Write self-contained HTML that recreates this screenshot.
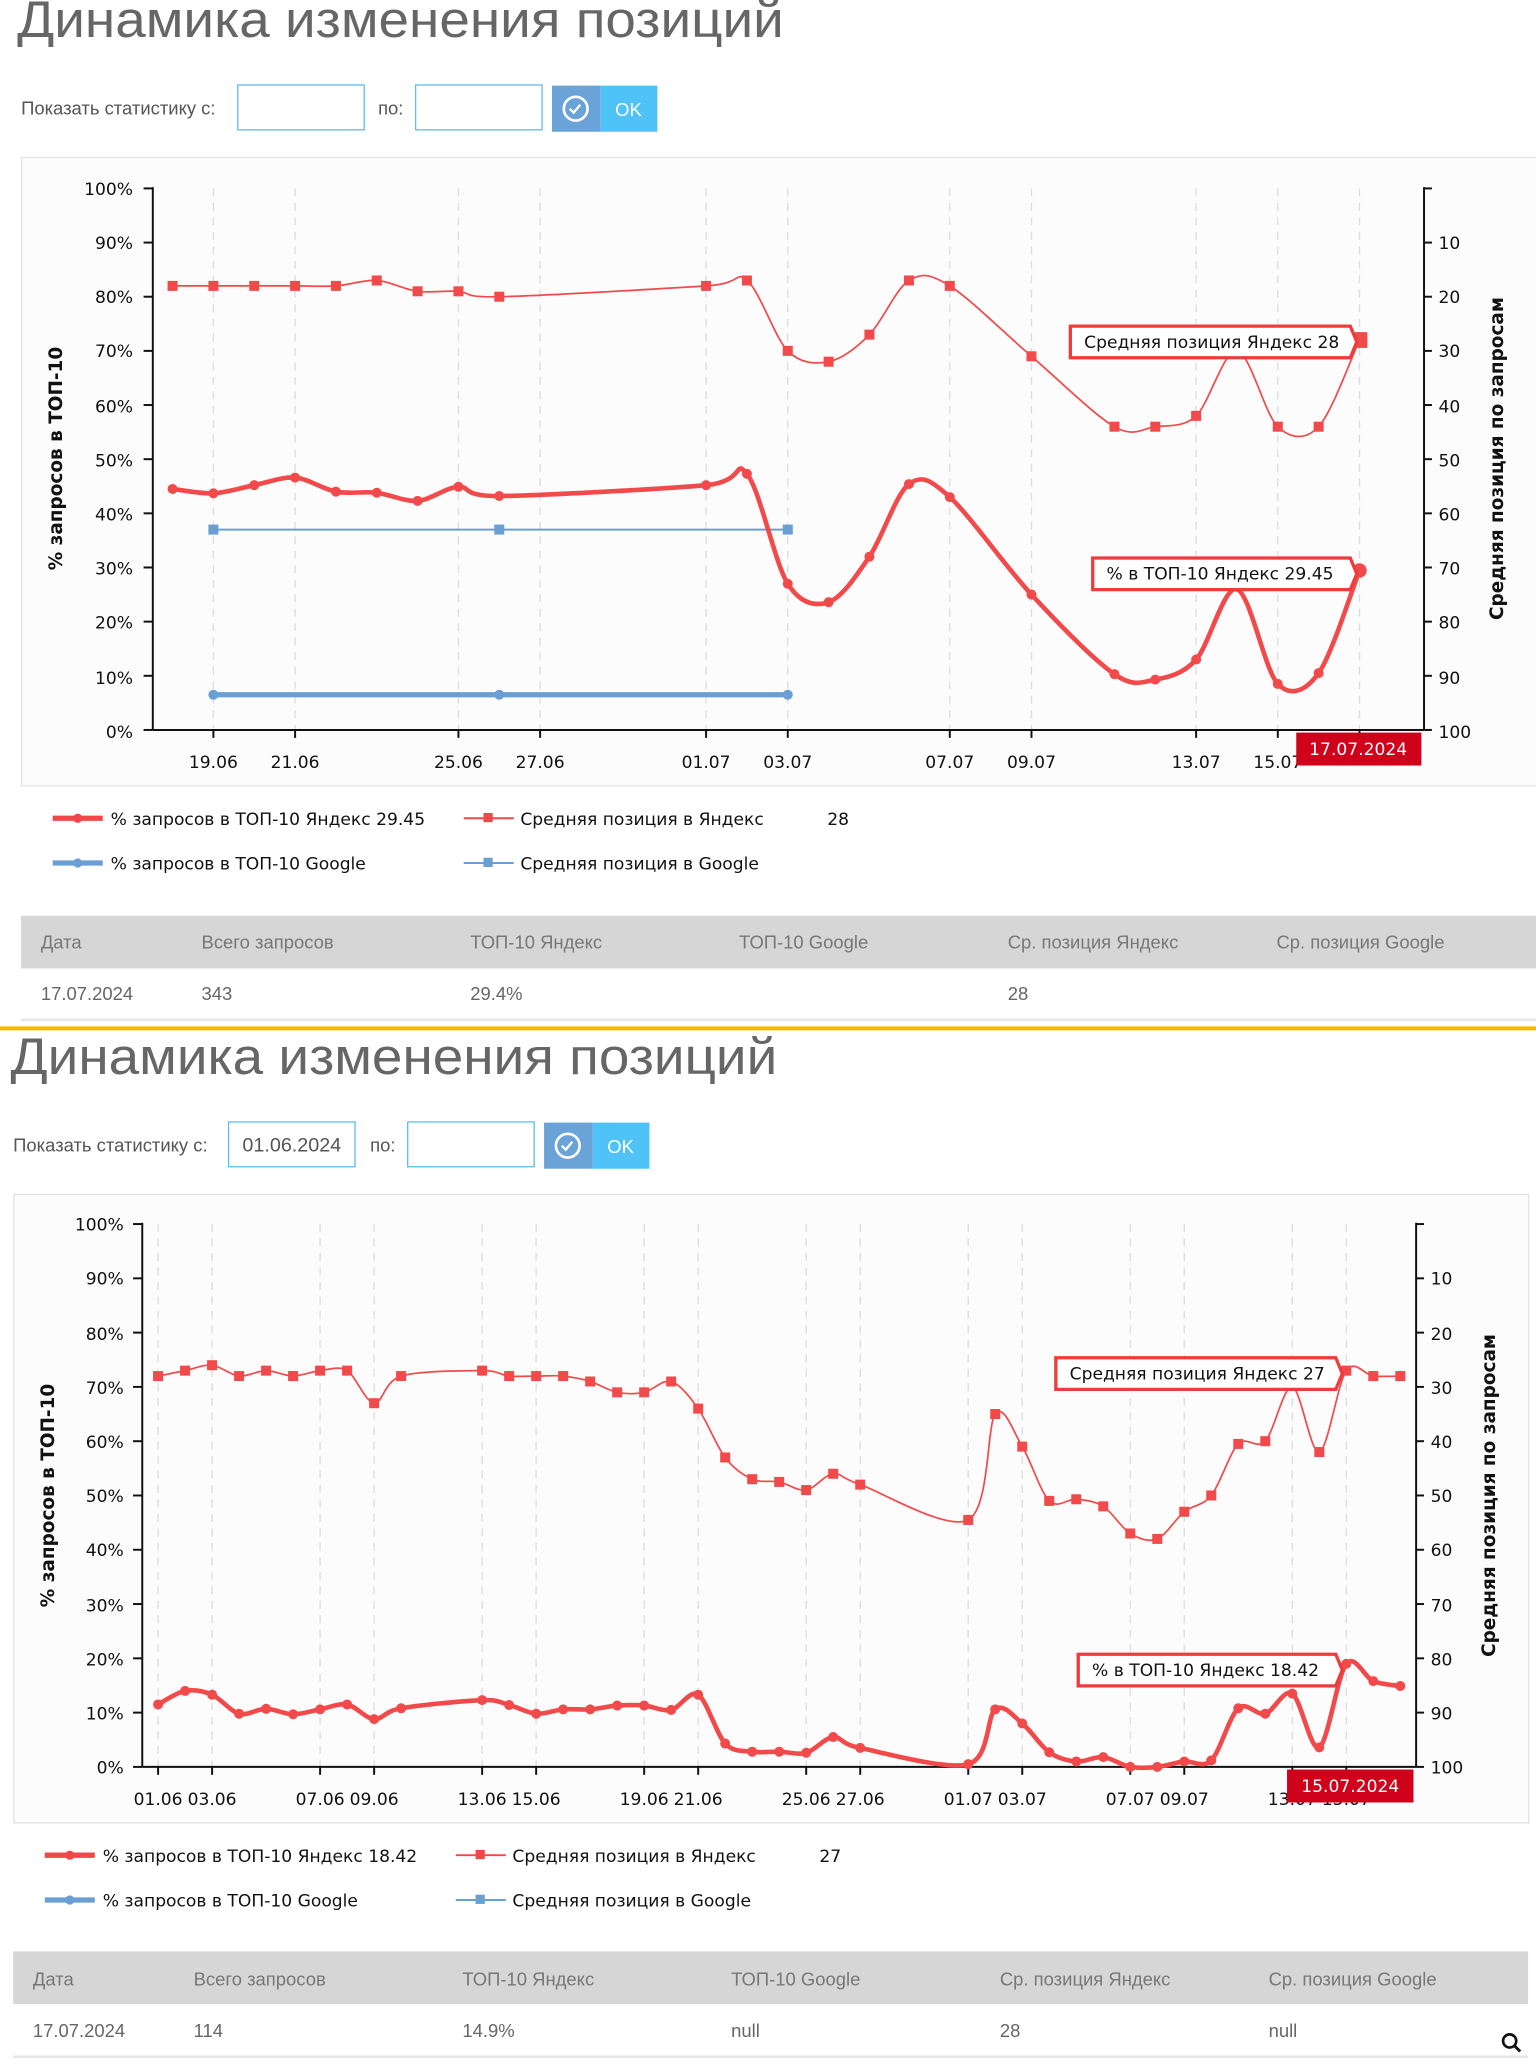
<!DOCTYPE html>
<html><head><meta charset="utf-8">
<style>
html,body{margin:0;padding:0;background:#fff;}
svg{display:block;}
.pg{font-family:"Liberation Sans",sans-serif;}
.ch{font-family:"DejaVu Sans","Liberation Sans",sans-serif;}
</style></head>
<body>
<svg id="s" width="1536" height="2066" viewBox="0 0 1166 1568" preserveAspectRatio="none" xmlns="http://www.w3.org/2000/svg">
<rect width="1166" height="1568" fill="#fff"/>

<!-- ============ BLOCK 1 ============ -->
<text class="pg" x="13" y="28" font-size="39" fill="#666" textLength="582" lengthAdjust="spacingAndGlyphs">Динамика изменения позиций</text>
<text class="pg" x="16" y="87" font-size="14" fill="#555">Показать статистику с:</text>
<rect x="180.5" y="64.5" width="96" height="34" fill="#fff" stroke="#5bc0f0"/>
<text class="pg" x="287" y="87" font-size="14" fill="#555">по:</text>
<rect x="315.5" y="64.5" width="96" height="34" fill="#fff" stroke="#5bc0f0"/>
<rect x="419" y="65" width="37" height="35" fill="#6aa3d8"/>
<rect x="456" y="65" width="43" height="35" fill="#4fc3f7"/>
<circle cx="437" cy="82.5" r="9" fill="none" stroke="#fff" stroke-width="2"/>
<path d="M432.5 82.5 l3 3 l5 -6" fill="none" stroke="#fff" stroke-width="1.8"/>
<text class="pg" x="467" y="88" font-size="14" fill="#fff">OK</text>

<rect x="16.5" y="119.5" width="1160" height="477" fill="#fcfcfc" stroke="#e2e2e2"/>
<g id="c1"></g>
<g class="ch" font-size="13" fill="#111">
<text x="101" y="148" text-anchor="end">100%</text>
<text x="101" y="189" text-anchor="end">90%</text>
<text x="101" y="230" text-anchor="end">80%</text>
<text x="101" y="271" text-anchor="end">70%</text>
<text x="101" y="313" text-anchor="end">60%</text>
<text x="101" y="354" text-anchor="end">50%</text>
<text x="101" y="395" text-anchor="end">40%</text>
<text x="101" y="436" text-anchor="end">30%</text>
<text x="101" y="477" text-anchor="end">20%</text>
<text x="101" y="519" text-anchor="end">10%</text>
<text x="101" y="560" text-anchor="end">0%</text>
<text x="1092" y="189">10</text><text x="1092" y="230">20</text><text x="1092" y="271">30</text>
<text x="1092" y="313">40</text><text x="1092" y="354">50</text><text x="1092" y="395">60</text>
<text x="1092" y="436">70</text><text x="1092" y="477">80</text><text x="1092" y="519">90</text>
<text x="1092" y="560">100</text>
<text x="162" y="583" text-anchor="middle">19.06</text>
<text x="224" y="583" text-anchor="middle">21.06</text>
<text x="348" y="583" text-anchor="middle">25.06</text>
<text x="410" y="583" text-anchor="middle">27.06</text>
<text x="536" y="583" text-anchor="middle">01.07</text>
<text x="598" y="583" text-anchor="middle">03.07</text>
<text x="721" y="583" text-anchor="middle">07.07</text>
<text x="783" y="583" text-anchor="middle">09.07</text>
<text x="908" y="583" text-anchor="middle">13.07</text>
<text x="970" y="583" text-anchor="middle">15.07</text>
<text transform="translate(47,348) rotate(-90)" text-anchor="middle" font-weight="bold" font-size="14">% запросов в ТОП-10</text>
<text transform="translate(1141,348) rotate(-90)" text-anchor="middle" font-weight="bold" font-size="14">Средняя позиция по запросам</text>
</g>
<rect x="984" y="556" width="95" height="25" fill="#d0021b"/>
<text class="ch" x="1031" y="573" font-size="13" fill="#fff" text-anchor="middle">17.07.2024</text>
<!-- tooltips 1 -->
<g class="ch" font-size="13" fill="#111">
<path d="M812.5 247.5 H1025 l5 12 l-5 12 H812.5 Z" fill="#fff" stroke="#ee3b3b" stroke-width="2.5"/>
<text x="823" y="264">Средняя позиция Яндекс 28</text>
<path d="M829.5 423.5 H1025 l5 12 l-5 12 H829.5 Z" fill="#fff" stroke="#ee3b3b" stroke-width="2.5"/>
<text x="840" y="440">% в ТОП-10 Яндекс 29.45</text>
</g>
<!-- legend 1 -->
<g class="ch" font-size="13" fill="#111">
<line x1="40" y1="621" x2="78" y2="621" stroke="#f04848" stroke-width="4"/><circle cx="59" cy="621" r="3.5" fill="#f04848"/>
<text x="84" y="626">% запросов в ТОП-10 Яндекс  29.45</text>
<line x1="352" y1="621" x2="390" y2="621" stroke="#f04848" stroke-width="1.5"/><rect x="367" y="617" width="7" height="7" fill="#f04848"/>
<text x="395" y="626">Средняя позиция в Яндекс</text><text x="628" y="626">28</text>
<line x1="40" y1="655" x2="78" y2="655" stroke="#6a9fd4" stroke-width="4"/><circle cx="59" cy="655" r="3.5" fill="#6a9fd4"/>
<text x="84" y="660">% запросов в ТОП-10 Google</text>
<line x1="352" y1="655" x2="390" y2="655" stroke="#6a9fd4" stroke-width="1.5"/><rect x="367" y="651" width="7" height="7" fill="#6a9fd4"/>
<text x="395" y="660">Средняя позиция в Google</text>
</g>
<!-- table 1 -->
<rect x="16" y="695" width="1150" height="40" fill="#d6d6d6"/>
<g class="pg" font-size="14" fill="#777">
<text x="31" y="720">Дата</text><text x="153" y="720">Всего запросов</text><text x="357" y="720">ТОП-10 Яндекс</text>
<text x="561" y="720">ТОП-10 Google</text><text x="765" y="720">Ср. позиция Яндекс</text><text x="969" y="720">Ср. позиция Google</text>
</g>
<g class="pg" font-size="14" fill="#666">
<text x="31" y="759">17.07.2024</text><text x="153" y="759">343</text><text x="357" y="759">29.4%</text><text x="765" y="759">28</text>
</g>
<line x1="16" y1="774" x2="1166" y2="774" stroke="#e6e6e6" stroke-width="2"/>
<rect x="0" y="779" width="1166" height="3" fill="#f5b800"/>

<!-- ============ BLOCK 2 ============ -->
<text class="pg" x="8" y="815" font-size="39" fill="#666" textLength="582" lengthAdjust="spacingAndGlyphs">Динамика изменения позиций</text>
<text class="pg" x="10" y="874" font-size="14" fill="#555">Показать статистику с:</text>
<rect x="173.5" y="851.5" width="96" height="34" fill="#fff" stroke="#5bc0f0"/>
<svg x="174" y="852" width="95" height="33"><text class="pg" x="10" y="22" font-size="15" fill="#555">01.06.2024</text></svg>
<text class="pg" x="281" y="874" font-size="14" fill="#555">по:</text>
<rect x="309.5" y="851.5" width="96" height="34" fill="#fff" stroke="#5bc0f0"/>
<rect x="413" y="852" width="37" height="35" fill="#6aa3d8"/>
<rect x="450" y="852" width="43" height="35" fill="#4fc3f7"/>
<circle cx="431" cy="869.5" r="9" fill="none" stroke="#fff" stroke-width="2"/>
<path d="M426.5 869.5 l3 3 l5 -6" fill="none" stroke="#fff" stroke-width="1.8"/>
<text class="pg" x="461" y="875" font-size="14" fill="#fff">OK</text>

<rect x="10.5" y="906.5" width="1150" height="477" fill="#fcfcfc" stroke="#e2e2e2"/>
<g id="c2"></g>
<g class="ch" font-size="13" fill="#111">
<text x="94" y="934" text-anchor="end">100%</text>
<text x="94" y="975" text-anchor="end">90%</text>
<text x="94" y="1017" text-anchor="end">80%</text>
<text x="94" y="1058" text-anchor="end">70%</text>
<text x="94" y="1099" text-anchor="end">60%</text>
<text x="94" y="1140" text-anchor="end">50%</text>
<text x="94" y="1181" text-anchor="end">40%</text>
<text x="94" y="1223" text-anchor="end">30%</text>
<text x="94" y="1264" text-anchor="end">20%</text>
<text x="94" y="1305" text-anchor="end">10%</text>
<text x="94" y="1346" text-anchor="end">0%</text>
<text x="1086" y="975">10</text><text x="1086" y="1017">20</text><text x="1086" y="1058">30</text>
<text x="1086" y="1099">40</text><text x="1086" y="1140">50</text><text x="1086" y="1181">60</text>
<text x="1086" y="1223">70</text><text x="1086" y="1264">80</text><text x="1086" y="1305">90</text>
<text x="1086" y="1346">100</text>
<text x="120" y="1370" text-anchor="middle">01.06</text><text x="161" y="1370" text-anchor="middle">03.06</text>
<text x="243" y="1370" text-anchor="middle">07.06</text><text x="284" y="1370" text-anchor="middle">09.06</text>
<text x="366" y="1370" text-anchor="middle">13.06</text><text x="407" y="1370" text-anchor="middle">15.06</text>
<text x="489" y="1370" text-anchor="middle">19.06</text><text x="530" y="1370" text-anchor="middle">21.06</text>
<text x="612" y="1370" text-anchor="middle">25.06</text><text x="653" y="1370" text-anchor="middle">27.06</text>
<text x="735" y="1370" text-anchor="middle">01.07</text><text x="776" y="1370" text-anchor="middle">03.07</text>
<text x="858" y="1370" text-anchor="middle">07.07</text><text x="899" y="1370" text-anchor="middle">09.07</text>
<text x="981" y="1370" text-anchor="middle">13.07</text><text x="1022" y="1370" text-anchor="middle">15.07</text>
<text transform="translate(41,1135) rotate(-90)" text-anchor="middle" font-weight="bold" font-size="14">% запросов в ТОП-10</text>
<text transform="translate(1135,1135) rotate(-90)" text-anchor="middle" font-weight="bold" font-size="14">Средняя позиция по запросам</text>
</g>
<rect x="977" y="1343" width="96" height="25" fill="#d0021b"/>
<text class="ch" x="1025" y="1360" font-size="13" fill="#fff" text-anchor="middle">15.07.2024</text>
<g class="ch" font-size="13" fill="#111">
<path d="M801.5 1030.5 H1014 l5 12 l-5 12 H801.5 Z" fill="#fff" stroke="#ee3b3b" stroke-width="2.5"/>
<text x="812" y="1047">Средняя позиция Яндекс 27</text>
<path d="M818.5 1255.5 H1014 l5 12 l-5 12 H818.5 Z" fill="#fff" stroke="#ee3b3b" stroke-width="2.5"/>
<text x="829" y="1272">% в ТОП-10 Яндекс 18.42</text>
</g>
<g class="ch" font-size="13" fill="#111">
<line x1="34" y1="1408" x2="72" y2="1408" stroke="#f04848" stroke-width="4"/><circle cx="53" cy="1408" r="3.5" fill="#f04848"/>
<text x="78" y="1413">% запросов в ТОП-10 Яндекс  18.42</text>
<line x1="346" y1="1408" x2="384" y2="1408" stroke="#f04848" stroke-width="1.5"/><rect x="361" y="1404" width="7" height="7" fill="#f04848"/>
<text x="389" y="1413">Средняя позиция в Яндекс</text><text x="622" y="1413">27</text>
<line x1="34" y1="1442" x2="72" y2="1442" stroke="#6a9fd4" stroke-width="4"/><circle cx="53" cy="1442" r="3.5" fill="#6a9fd4"/>
<text x="78" y="1447">% запросов в ТОП-10 Google</text>
<line x1="346" y1="1442" x2="384" y2="1442" stroke="#6a9fd4" stroke-width="1.5"/><rect x="361" y="1438" width="7" height="7" fill="#6a9fd4"/>
<text x="389" y="1447">Средняя позиция в Google</text>
</g>
<rect x="10" y="1481" width="1150" height="40" fill="#d6d6d6"/>
<g class="pg" font-size="14" fill="#777">
<text x="25" y="1507">Дата</text><text x="147" y="1507">Всего запросов</text><text x="351" y="1507">ТОП-10 Яндекс</text>
<text x="555" y="1507">ТОП-10 Google</text><text x="759" y="1507">Ср. позиция Яндекс</text><text x="963" y="1507">Ср. позиция Google</text>
</g>
<g class="pg" font-size="14" fill="#666">
<text x="25" y="1546">17.07.2024</text><text x="147" y="1546">114</text><text x="351" y="1546">14.9%</text>
<text x="555" y="1546">null</text><text x="759" y="1546">28</text><text x="963" y="1546">null</text>
</g>
<line x1="10" y1="1561" x2="1160" y2="1561" stroke="#e6e6e6" stroke-width="2"/>
<circle cx="1146" cy="1549" r="5" fill="none" stroke="#111" stroke-width="2"/>
<line x1="1149.5" y1="1552.5" x2="1154" y2="1557" stroke="#111" stroke-width="2.2"/>
</svg>

<script>
var NS="http://www.w3.org/2000/svg";
function el(g,t,a){var e=document.createElementNS(NS,t);for(var k in a)e.setAttribute(k,a[k]);g.appendChild(e);return e;}
function cr(p){var d="M"+p[0][0]+" "+p[0][1];for(var i=0;i<p.length-1;i++){var a=p[i-1]||p[i],b=p[i],c=p[i+1],e=p[i+2]||c;
var t=0.16;d+=" C"+(b[0]+(c[0]-a[0])*t)+" "+(b[1]+(c[1]-a[1])*t)+" "+(c[0]-(e[0]-b[0])*t)+" "+(c[1]-(e[1]-b[1])*t)+" "+c[0]+" "+c[1];}return d;}
function chart(g,L,R,T,B,grid,ticks,series){
 var h=(B-T)/10;
 grid.forEach(function(x){el(g,"line",{x1:x,y1:T,x2:x,y2:B,stroke:"#ddd","stroke-dasharray":"6,5"});});
 el(g,"line",{x1:L,y1:T-1,x2:L,y2:B,stroke:"#111","stroke-width":1.5});
 el(g,"line",{x1:R,y1:T-1,x2:R,y2:B,stroke:"#111","stroke-width":1.5});
 el(g,"line",{x1:L,y1:B,x2:R,y2:B,stroke:"#111","stroke-width":1.5});
 for(var i=0;i<=10;i++){var y=T+i*h;el(g,"line",{x1:L-7,y1:y,x2:L,y2:y,stroke:"#111","stroke-width":1.5});el(g,"line",{x1:R,y1:y,x2:R+6,y2:y,stroke:"#111","stroke-width":1.5});}
 ticks.forEach(function(x){el(g,"line",{x1:x,y1:B,x2:x,y2:B+6,stroke:"#111","stroke-width":1.5});});
 series.forEach(function(s){
  var pts=s.d.map(function(q){return [q[0],B-q[1]*h/10,q[2]];});
  el(g,"path",{d:cr(pts),fill:"none",stroke:s.c,"stroke-width":s.w,"stroke-linejoin":"round"});
  pts.forEach(function(q,i){if(q[2])return;var big=(i==pts.length-1&&s.big);
   if(s.sq){var r=big?6:3.8;el(g,"rect",{x:q[0]-r,y:q[1]-r,width:2*r,height:2*r,fill:s.c});}
   else el(g,"circle",{cx:q[0],cy:q[1],r:big?5.5:3.8,fill:s.c});});
 });
}
var RED="#f24a4a",BLU="#6a9fd4";
var g1=[162,224,348,410,536,598,721,783,908,970,1032];
chart(document.getElementById("c1"),116,1081,143,554,g1,g1,[
 {c:BLU,w:1.5,sq:1,d:[[162,37],[379,37],[598,37]]},
 {c:BLU,w:4,d:[[162,6.5],[379,6.5],[598,6.5]]},
 {c:RED,w:1.3,sq:1,big:1,d:[[131,82],[162,82],[193,82],[224,82],[255,82],[286,83],[317,81],[348,81],[379,80],[536,82],[567,83],[598,70],[629,68],[660,73],[690,83],[721,82],[783,69],[846,56],[877,56],[908,58],[939,70,1],[970,56],[1001,56],[1032,72]]},
 {c:RED,w:3.5,big:1,d:[[131,44.5],[162,43.7],[193,45.2],[224,46.6],[255,44],[286,43.8],[317,42.3],[348,44.9],[379,43.2],[536,45.2],[567,47.3],[598,27],[629,23.6],[660,32],[690,45.4],[721,43],[783,25],[846,10.3],[877,9.3],[908,13],[939,26,1],[970,8.5],[1001,10.5],[1032,29.45]]}
]);
function X(d){return 120+20.5*d;}
var g2=[0,2,6,8,12,14,18,20,24,26,30,32,36,38,42,44].map(X);
var pct=[[0,11.5],[1,14],[2,13.3],[3,9.8],[4,10.7],[5,9.7],[6,10.6],[7,11.5],[8,8.8],[9,10.8],[12,12.3],[13,11.4],[14,9.8],[15,10.6],[16,10.6],[17,11.3],[18,11.3],[19,10.5],[20,13.3],[21,4.3],[22,2.8],[23,2.8],[24,2.6],[25,5.5],[26,3.5],[30,0.5],[31,10.6],[32,8],[33,2.7],[34,1],[35,1.8],[36,0],[37,0],[38,1],[39,1.2],[40,10.8],[41,9.8],[42,13.5],[43,3.6],[44,19],[45,15.8],[46,14.9]];
var pos=[[0,72],[1,73],[2,74],[3,72],[4,73],[5,72],[6,73],[7,73],[8,67],[9,72],[12,73],[13,72],[14,72],[15,72],[16,71],[17,69],[18,69],[19,71],[20,66],[21,57],[22,53],[23,52.5],[24,51],[25,54],[26,52],[30,45.5],[31,65],[32,59],[33,49],[34,49.3],[35,48],[36,43],[37,42],[38,47],[39,50],[40,59.5],[41,60],[42,70,1],[43,58],[44,73],[45,72],[46,72]];
chart(document.getElementById("c2"),108,1075,929,1341,g2,g2,[
 {c:RED,w:1.3,sq:1,d:pos.map(function(q){return [X(q[0]),q[1],q[2]];})},
 {c:RED,w:3.5,d:pct.map(function(q){return [X(q[0]),q[1],q[2]];})}
]);
</script>
</body></html>
